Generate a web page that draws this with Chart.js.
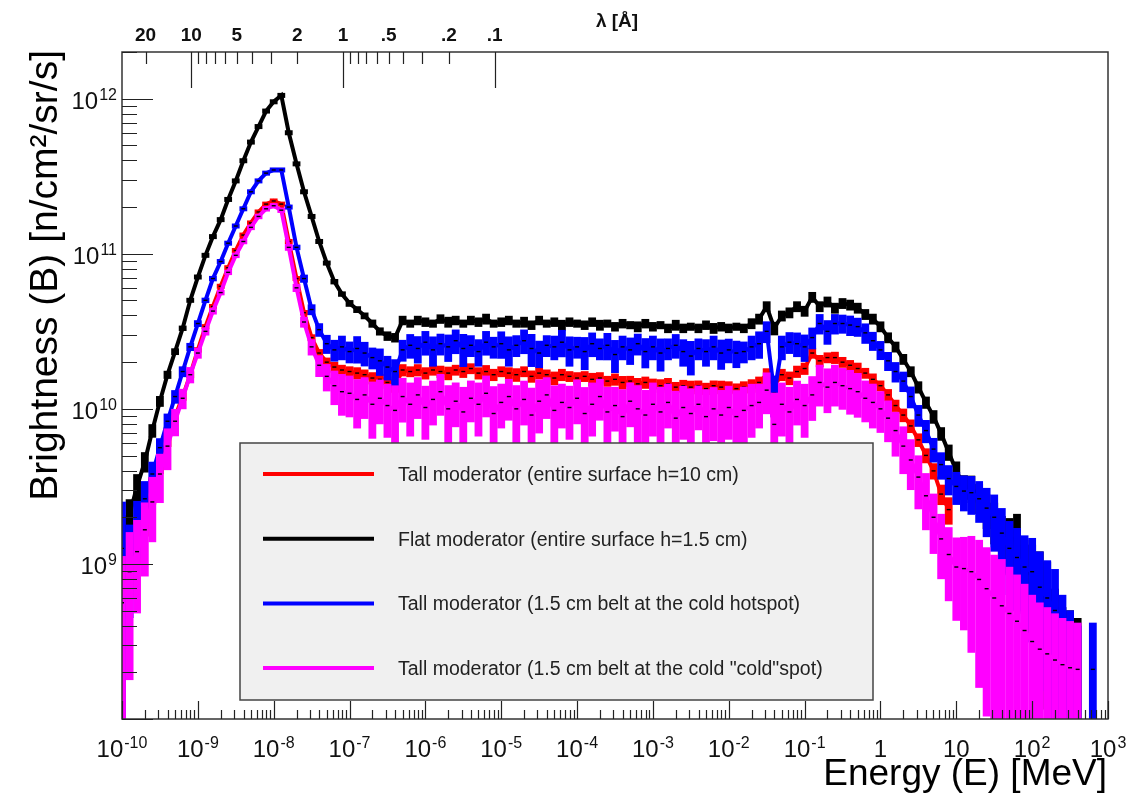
<!DOCTYPE html>
<html>
<head>
<meta charset="utf-8">
<title>Brightness vs energy</title>
<script src="https://cdn.jsdelivr.net/npm/chart.js@4.4.1/dist/chart.umd.min.js"></script>
<style>
  html, body { margin: 0; padding: 0; background: #fff; }
  canvas { display: block; }
</style>
</head>
<body>
<canvas id="chart" width="1128" height="796"></canvas>
<script>
// bin centres, MeV (10 per decade)
const energy = [
  1.00e-10, 1.26e-10, 1.58e-10, 2.00e-10, 2.51e-10, 3.16e-10, 3.98e-10, 5.01e-10, 6.31e-10, 7.94e-10,
  1.00e-9, 1.26e-9, 1.58e-9, 2.00e-9, 2.51e-9, 3.16e-9, 3.98e-9, 5.01e-9, 6.31e-9, 7.94e-9,
  1.00e-8, 1.26e-8, 1.58e-8, 2.00e-8, 2.51e-8, 3.16e-8, 3.98e-8, 5.01e-8, 6.31e-8, 7.94e-8,
  1.00e-7, 1.26e-7, 1.58e-7, 2.00e-7, 2.51e-7, 3.16e-7, 3.98e-7, 5.01e-7, 6.31e-7, 7.94e-7,
  1.00e-6, 1.26e-6, 1.58e-6, 2.00e-6, 2.51e-6, 3.16e-6, 3.98e-6, 5.01e-6, 6.31e-6, 7.94e-6,
  1.00e-5, 1.26e-5, 1.58e-5, 2.00e-5, 2.51e-5, 3.16e-5, 3.98e-5, 5.01e-5, 6.31e-5, 7.94e-5,
  1.00e-4, 1.26e-4, 1.58e-4, 2.00e-4, 2.51e-4, 3.16e-4, 3.98e-4, 5.01e-4, 6.31e-4, 7.94e-4,
  1.00e-3, 1.26e-3, 1.58e-3, 2.00e-3, 2.51e-3, 3.16e-3, 3.98e-3, 5.01e-3, 6.31e-3, 7.94e-3,
  1.00e-2, 1.26e-2, 1.58e-2, 2.00e-2, 2.51e-2, 3.16e-2, 3.98e-2, 5.01e-2, 6.31e-2, 7.94e-2,
  0.100, 0.126, 0.158, 0.200, 0.251, 0.316, 0.398, 0.501, 0.631, 0.794,
  1.00, 1.26, 1.58, 2.00, 2.51, 3.16, 3.98, 5.01, 6.31, 7.94,
  10.0, 12.6, 15.8, 20.0, 25.1, 31.6, 39.8, 50.1, 63.1, 79.4,
  100, 126, 158, 200, 251, 316, 398, 501, 631, 794
];

// Tall moderator, entire surface (red)
const tallSurface = [
  8.91e8, 1.00e9, 1.41e9, 2.00e9, 3.02e9, 4.47e9, 6.31e9, 8.91e9, 1.20e10, 1.66e10,
  2.40e10, 3.39e10, 4.57e10, 6.17e10, 8.13e10, 1.05e11, 1.32e11, 1.58e11, 1.86e11, 2.09e11,
  2.19e11, 2.09e11, 1.20e11, 6.92e10, 4.17e10, 2.88e10, 2.29e10, 2.00e10, 1.86e10, 1.78e10,
  1.74e10, 1.70e10, 1.66e10, 1.58e10, 1.55e10, 1.48e10, 1.41e10, 1.78e10, 1.74e10, 1.78e10,
  1.70e10, 1.78e10, 1.74e10, 1.70e10, 1.78e10, 1.74e10, 1.82e10, 1.70e10, 1.74e10, 1.66e10,
  1.74e10, 1.70e10, 1.66e10, 1.74e10, 1.62e10, 1.70e10, 1.66e10, 1.58e10, 1.66e10, 1.62e10,
  1.58e10, 1.62e10, 1.55e10, 1.58e10, 1.51e10, 1.55e10, 1.48e10, 1.51e10, 1.45e10, 1.48e10,
  1.45e10, 1.41e10, 1.45e10, 1.38e10, 1.41e10, 1.38e10, 1.41e10, 1.35e10, 1.41e10, 1.38e10,
  1.38e10, 1.35e10, 1.38e10, 1.41e10, 1.48e10, 1.66e10, 1.41e10, 1.66e10, 1.58e10, 1.74e10,
  1.82e10, 2.29e10, 2.04e10, 2.14e10, 2.14e10, 2.00e10, 1.91e10, 1.82e10, 1.70e10, 1.55e10,
  1.41e10, 1.23e10, 1.05e10, 9.12e9, 7.76e9, 6.31e9, 5.01e9, 3.98e9, 2.82e9, 2.24e9,
  null, null, null, null, null, null, null, null, null, null,
  null, null, null, null, null, null, null, null, null, null
];
const tallSurfaceErr = [
  0.5, 0.4, 0.3, 0.25, 0.2, 0.15, 0.1, 0.08, 0.06, 0.05,
  0.04, 0.03, 0.03, 0.03, 0.03, 0.03, 0.03, 0.03, 0.03, 0.03,
  0.03, 0.03, 0.03, 0.03, 0.04, 0.05, 0.06, 0.07, 0.08, 0.08,
  0.08, 0.09, 0.08, 0.09, 0.08, 0.09, 0.1, 0.09, 0.08, 0.09,
  0.09, 0.08, 0.09, 0.1, 0.08, 0.09, 0.08, 0.09, 0.1, 0.09,
  0.08, 0.09, 0.1, 0.08, 0.09, 0.09, 0.08, 0.1, 0.09, 0.08,
  0.09, 0.08, 0.1, 0.09, 0.08, 0.09, 0.1, 0.08, 0.09, 0.09,
  0.08, 0.1, 0.09, 0.08, 0.09, 0.1, 0.08, 0.09, 0.08, 0.1,
  0.09, 0.08, 0.09, 0.1, 0.09, 0.1, 0.12, 0.09, 0.1, 0.09,
  0.09, 0.08, 0.09, 0.08, 0.09, 0.08, 0.08, 0.09, 0.08, 0.09,
  0.08, 0.09, 0.09, 0.1, 0.1, 0.1, 0.11, 0.12, 0.15, 0.2,
  0, 0, 0, 0, 0, 0, 0, 0, 0, 0,
  0, 0, 0, 0, 0, 0, 0, 0, 0, 0
];

// Flat moderator, entire surface (black)
const flatSurface = [
  1.58e9, 2.09e9, 3.16e9, 4.57e9, 7.24e9, 1.12e10, 1.66e10, 2.34e10, 3.31e10, 5.01e10,
  7.08e10, 9.77e10, 1.29e11, 1.66e11, 2.24e11, 2.95e11, 3.98e11, 5.25e11, 6.61e11, 8.32e11,
  9.55e11, 1.05e12, 6.03e11, 3.80e11, 2.51e11, 1.74e11, 1.20e11, 8.71e10, 6.61e10, 5.50e10,
  4.79e10, 4.37e10, 3.98e10, 3.55e10, 3.16e10, 2.95e10, 2.88e10, 3.72e10, 3.55e10, 3.72e10,
  3.63e10, 3.55e10, 3.80e10, 3.63e10, 3.72e10, 3.55e10, 3.72e10, 3.63e10, 3.80e10, 3.55e10,
  3.63e10, 3.72e10, 3.55e10, 3.63e10, 3.47e10, 3.72e10, 3.55e10, 3.63e10, 3.47e10, 3.63e10,
  3.55e10, 3.47e10, 3.63e10, 3.47e10, 3.55e10, 3.39e10, 3.55e10, 3.47e10, 3.39e10, 3.55e10,
  3.39e10, 3.47e10, 3.31e10, 3.47e10, 3.31e10, 3.39e10, 3.31e10, 3.47e10, 3.31e10, 3.39e10,
  3.31e10, 3.39e10, 3.31e10, 3.55e10, 3.80e10, 4.57e10, 3.31e10, 3.98e10, 4.17e10, 4.57e10,
  4.27e10, 5.25e10, 4.57e10, 4.90e10, 4.47e10, 4.79e10, 4.68e10, 4.47e10, 4.07e10, 3.80e10,
  3.39e10, 2.88e10, 2.51e10, 2.09e10, 1.74e10, 1.38e10, 1.10e10, 8.91e9, 6.92e9, 5.25e9,
  3.98e9, 3.16e9, 3.09e9, 2.69e9, 2.24e9, 1.91e9, 1.51e9, 1.41e9, 1.45e9, 9.55e8,
  8.32e8, 7.08e8, 5.75e8, 3.55e8, 2.63e8, 2.51e8, 2.24e8, null, null, null
];
const flatSurfaceErr = [
  0.3, 0.25, 0.2, 0.15, 0.1, 0.08, 0.06, 0.05, 0.04, 0.03,
  0.02, 0.02, 0.02, 0.02, 0.02, 0.02, 0.02, 0.02, 0.02, 0.02,
  0.02, 0.02, 0.02, 0.02, 0.02, 0.02, 0.03, 0.03, 0.04, 0.04,
  0.05, 0.05, 0.05, 0.06, 0.06, 0.07, 0.07, 0.07, 0.06, 0.07,
  0.07, 0.06, 0.07, 0.08, 0.07, 0.06, 0.07, 0.07, 0.08, 0.06,
  0.07, 0.07, 0.06, 0.08, 0.07, 0.07, 0.06, 0.07, 0.08, 0.07,
  0.06, 0.07, 0.07, 0.08, 0.06, 0.07, 0.07, 0.06, 0.08, 0.07,
  0.07, 0.06, 0.07, 0.08, 0.07, 0.06, 0.07, 0.07, 0.08, 0.07,
  0.07, 0.06, 0.07, 0.08, 0.08, 0.08, 0.1, 0.08, 0.08, 0.08,
  0.08, 0.08, 0.08, 0.08, 0.08, 0.08, 0.08, 0.08, 0.08, 0.08,
  0.08, 0.08, 0.08, 0.08, 0.08, 0.09, 0.09, 0.1, 0.1, 0.12,
  0.15, 0.18, 0.2, 0.22, 0.25, 0.3, 0.35, 0.4, 0.45, 0.5,
  0.6, 0.7, 0.8, 0.95, 1, 1, 1, 0, 0, 0
];

// Tall moderator, 1.5 cm belt at the cold hotspot (blue)
const beltHotspot = [
  1.26e9, 1.12e9, 1.82e9, 2.63e9, 3.80e9, 5.62e9, 8.32e9, 1.20e10, 1.74e10, 2.51e10,
  3.55e10, 5.01e10, 6.92e10, 8.91e10, 1.17e11, 1.51e11, 1.95e11, 2.51e11, 2.95e11, 3.31e11,
  3.47e11, 3.47e11, 2.00e11, 1.10e11, 6.92e10, 4.37e10, 3.24e10, 2.63e10, 2.40e10, 2.51e10,
  2.34e10, 2.45e10, 2.29e10, 2.14e10, 2.04e10, 1.86e10, 1.74e10, 2.40e10, 2.57e10, 2.45e10,
  2.69e10, 2.40e10, 2.63e10, 2.51e10, 2.75e10, 2.45e10, 2.57e10, 2.34e10, 2.69e10, 2.51e10,
  2.63e10, 2.40e10, 2.57e10, 2.75e10, 2.45e10, 2.29e10, 2.57e10, 2.51e10, 2.69e10, 2.40e10,
  2.51e10, 2.34e10, 2.63e10, 2.45e10, 2.57e10, 2.24e10, 2.51e10, 2.40e10, 2.63e10, 2.34e10,
  2.51e10, 2.29e10, 2.45e10, 2.57e10, 2.34e10, 2.19e10, 2.45e10, 2.34e10, 2.51e10, 2.29e10,
  2.40e10, 2.29e10, 2.34e10, 2.51e10, 2.63e10, 3.16e10, 1.26e10, 2.51e10, 2.69e10, 2.63e10,
  2.51e10, 2.88e10, 3.55e10, 3.16e10, 3.55e10, 3.55e10, 3.47e10, 3.39e10, 3.09e10, 2.75e10,
  2.40e10, 2.04e10, 1.74e10, 1.51e10, 1.20e10, 9.12e9, 7.24e9, 5.50e9, 4.37e9, 3.55e9,
  3.16e9, 2.95e9, 2.88e9, 2.63e9, 2.29e9, 2.00e9, 1.58e9, 1.26e9, 1.10e9, 9.55e8,
  8.91e8, 7.08e8, 6.03e8, 5.01e8, 3.16e8, 2.51e8, 2.00e8, null, 2.09e8, null
];
const beltHotspotErr = [
  1, 0.6, 0.4, 0.3, 0.2, 0.15, 0.12, 0.1, 0.08, 0.06,
  0.05, 0.04, 0.04, 0.03, 0.03, 0.03, 0.03, 0.03, 0.03, 0.03,
  0.03, 0.03, 0.03, 0.04, 0.06, 0.08, 0.1, 0.14, 0.16, 0.18,
  0.16, 0.2, 0.18, 0.16, 0.2, 0.18, 0.2, 0.16, 0.18, 0.2,
  0.18, 0.22, 0.16, 0.2, 0.18, 0.24, 0.16, 0.2, 0.18, 0.16,
  0.2, 0.22, 0.16, 0.18, 0.24, 0.2, 0.16, 0.18, 0.2, 0.22,
  0.16, 0.24, 0.18, 0.16, 0.2, 0.24, 0.18, 0.2, 0.16, 0.22,
  0.18, 0.24, 0.16, 0.18, 0.2, 0.25, 0.16, 0.2, 0.18, 0.22,
  0.18, 0.2, 0.16, 0.18, 0.2, 0.16, 0.3, 0.18, 0.16, 0.18,
  0.2, 0.16, 0.15, 0.18, 0.15, 0.14, 0.15, 0.14, 0.15, 0.14,
  0.14, 0.14, 0.15, 0.15, 0.16, 0.16, 0.17, 0.18, 0.2, 0.22,
  0.24, 0.26, 0.28, 0.3, 0.35, 0.4, 0.45, 0.5, 0.55, 0.6,
  0.65, 0.7, 0.75, 0.85, 1, 1, 1, 0, 1, 0
];

// Tall moderator, 1.5 cm belt at the cold "cold"spot (magenta)
const beltColdspot = [
  5.62e8, 8.91e8, 1.20e9, 1.66e9, 2.51e9, 3.80e9, 5.75e9, 8.32e9, 1.17e10, 1.66e10,
  2.29e10, 3.16e10, 4.27e10, 5.62e10, 7.59e10, 9.77e10, 1.20e11, 1.48e11, 1.74e11, 1.95e11,
  2.04e11, 1.91e11, 1.10e11, 6.03e10, 3.63e10, 2.51e10, 1.91e10, 1.62e10, 1.41e10, 1.29e10,
  1.26e10, 1.15e10, 1.23e10, 1.07e10, 1.17e10, 1.05e10, 9.77e9, 1.20e10, 1.07e10, 1.23e10,
  1.02e10, 1.15e10, 1.29e10, 1.00e10, 1.12e10, 9.55e9, 1.17e10, 1.07e10, 1.26e10, 9.33e9,
  1.10e10, 1.20e10, 1.00e10, 1.15e10, 9.12e9, 1.12e10, 1.23e10, 9.77e9, 1.10e10, 1.02e10,
  1.17e10, 9.33e9, 1.07e10, 1.20e10, 9.55e9, 1.05e10, 8.91e9, 1.12e10, 1.00e10, 9.12e9,
  1.07e10, 9.55e9, 1.10e10, 8.71e9, 1.02e10, 9.33e9, 1.07e10, 8.91e9, 1.00e10, 9.12e9,
  1.02e10, 8.91e9, 9.77e9, 1.05e10, 1.10e10, 1.32e10, 7.94e9, 1.07e10, 9.55e9, 1.15e10,
  1.05e10, 1.23e10, 1.48e10, 1.38e10, 1.48e10, 1.41e10, 1.35e10, 1.29e10, 1.17e10, 1.10e10,
  1.00e10, 8.71e9, 7.24e9, 5.75e9, 4.68e9, 3.63e9, 2.75e9, 2.00e9, 1.45e9, 1.15e9,
  9.55e8, 9.33e8, 8.91e8, 7.94e8, 6.92e8, 6.03e8, 5.37e8, 4.79e8, 4.27e8, 3.72e8,
  3.16e8, 2.82e8, 2.63e8, 2.40e8, 2.24e8, 2.14e8, 2.09e8, null, null, null
];
const beltColdspotErr = [
  1, 0.8, 0.6, 0.5, 0.45, 0.35, 0.3, 0.2, 0.15, 0.12,
  0.08, 0.06, 0.05, 0.04, 0.04, 0.04, 0.04, 0.04, 0.04, 0.04,
  0.04, 0.04, 0.05, 0.06, 0.08, 0.12, 0.16, 0.2, 0.25, 0.3,
  0.3, 0.35, 0.3, 0.4, 0.32, 0.38, 0.45, 0.32, 0.38, 0.3,
  0.38, 0.32, 0.3, 0.42, 0.32, 0.45, 0.3, 0.38, 0.3, 0.5,
  0.32, 0.3, 0.42, 0.32, 0.5, 0.38, 0.3, 0.45, 0.32, 0.38,
  0.32, 0.48, 0.38, 0.3, 0.45, 0.32, 0.5, 0.32, 0.42, 0.45,
  0.38, 0.45, 0.32, 0.5, 0.38, 0.45, 0.32, 0.5, 0.38, 0.45,
  0.38, 0.48, 0.42, 0.38, 0.32, 0.3, 0.6, 0.38, 0.45, 0.32,
  0.38, 0.32, 0.3, 0.32, 0.3, 0.3, 0.32, 0.32, 0.3, 0.32,
  0.3, 0.3, 0.32, 0.34, 0.36, 0.38, 0.4, 0.42, 0.45, 0.5,
  0.55, 0.6, 0.7, 0.8, 0.85, 0.9, 1, 1, 1, 1,
  1, 1, 1, 1, 1, 1, 1, 0, 0, 0
];

const seriesLabels = [
  'Tall moderator (entire surface h=10 cm)',
  'Flat moderator (entire surface h=1.5 cm)',
  'Tall moderator (1.5 cm belt at the cold hotspot)',
  'Tall moderator (1.5 cm belt at the cold "cold"spot)'
];
const seriesColors = ['#ff0000', '#000000', '#0000ff', '#ff00ff'];

// axis labels
const xDecades = [1e-10, 1e-9, 1e-8, 1e-7, 1e-6, 1e-5, 1e-4, 1e-3, 1e-2, 1e-1, 1, 10, 100, 1000];
const xDecadeText = ['10^-10', '10^-9', '10^-8', '10^-7', '10^-6', '10^-5', '10^-4', '10^-3', '10^-2', '10^-1', '1', '10', '10^2', '10^3'];
const yDecades = [1e9, 1e10, 1e11, 1e12];
const yDecadeText = ['10^9', '10^10', '10^11', '10^12'];
const minorSteps = [2, 3, 4, 5, 6, 7, 8, 9];

// top wavelength axis, Angstrom
const lambdaMajor = [10, 1, 0.1];
const lambdaMinor = [20, 9, 8, 7, 6, 5, 4, 3, 2, 0.9, 0.8, 0.7, 0.6, 0.5, 0.4, 0.3, 0.2];
const lambdaText = ['20', '10', '5', '2', '1', '.5', '.2', '.1'];
const lambdaTextAt = [20, 10, 5, 2, 1, 0.5, 0.2, 0.1];

// neutron wavelength for energy in MeV: lambda^2 = 81.8 meV A^2 / E
const lambdaOf = e => Math.sqrt(8.1804e-8 / e);

const FONT = '"Liberation Sans", Arial, Helvetica, sans-serif';

// keep empty bins as gaps
function points(values, errs) {
  return energy.map((e, i) => ({ x: e, y: values[i], err: errs[i] }));
}

const datasets = [
  [tallSurface, tallSurfaceErr, 4],
  [flatSurface, flatSurfaceErr, 3],
  [beltHotspot, beltHotspotErr, 2],
  [beltColdspot, beltColdspotErr, 1]
].map(([vals, errs, order], k) => ({
  label: seriesLabels[k],
  data: points(vals, errs),
  backgroundColor: seriesColors[k],
  borderColor: seriesColors[k],
  borderWidth: 4,
  tension: 0,
  spanGaps: false,
  pointStyle: 'line',
  pointRadius: 2,
  pointBorderWidth: 1.4,
  pointBorderColor: '#000',
  showLine: true,
  order: order,
  xAxisID: 'x',
  yAxisID: 'y'
}));

// coloured vertical error bars under each marker, one bin wide
const errorBars = {
  id: 'errorBars',
  beforeDatasetDraw(chart, args) {
    const { ctx, chartArea: a } = chart;
    const xs = chart.scales.x, ys = chart.scales.y;
    const ds = chart.data.datasets[args.index];
    ctx.save();
    ctx.beginPath();
    ctx.rect(a.left, a.top, a.right - a.left, a.bottom - a.top);
    ctx.clip();
    ctx.fillStyle = ds.backgroundColor;
    ds.data.forEach(p => {
      if (p.y == null) return;
      const px = xs.getPixelForValue(p.x);
      const py = ys.getPixelForValue(p.y);
      const hi = ys.getPixelForValue(p.y * (1 + p.err));
      const lo = p.err >= 1 ? a.bottom : ys.getPixelForValue(p.y * (1 - p.err));
      const top = Math.min(hi, py - 2.5);
      const bot = Math.max(lo, py + 2.5);
      ctx.fillRect(px - 3.9, top, 7.8, bot - top);
    });
    ctx.restore();
  }
};

function drawPower(ctx, text, x, baseY, align, size, expSize, expLift) {
  const parts = text.split('^');
  ctx.font = size + 'px ' + FONT;
  const wb = ctx.measureText(parts[0]).width;
  let we = 0;
  if (parts[1]) {
    ctx.font = expSize + 'px ' + FONT;
    we = ctx.measureText(parts[1]).width + 1;
  }
  const sx = align === 'center' ? x - (wb + we) / 2 : x - (wb + we);
  ctx.textAlign = 'left';
  ctx.font = size + 'px ' + FONT;
  ctx.fillText(parts[0], sx, baseY);
  if (parts[1]) {
    ctx.font = expSize + 'px ' + FONT;
    ctx.fillText(parts[1], sx + wb + 1, baseY - expLift);
  }
}

// ROOT-style frame, inward ticks, labels, titles and legend box
const rootAxes = {
  id: 'rootAxes',
  afterDraw(chart) {
    const { ctx, chartArea: a } = chart;
    const xs = chart.scales.x, ys = chart.scales.y, lam = chart.scales.lam;
    ctx.save();

    // legend
    ctx.fillStyle = '#f0f0f0';
    ctx.fillRect(240, 443, 633, 257);
    ctx.strokeStyle = '#444';
    ctx.lineWidth = 1.5;
    ctx.strokeRect(240, 443, 633, 257);
    chart.data.datasets.forEach((ds, i) => {
      const ly = 474 + i * 64.7;
      ctx.strokeStyle = ds.borderColor;
      ctx.lineWidth = 4;
      ctx.beginPath();
      ctx.moveTo(263, ly);
      ctx.lineTo(374, ly);
      ctx.stroke();
      ctx.fillStyle = '#222';
      ctx.font = '19.5px ' + FONT;
      ctx.textAlign = 'left';
      ctx.textBaseline = 'alphabetic';
      ctx.fillText(ds.label, 398, ly + 7);
    });

    // frame
    ctx.strokeStyle = '#333';
    ctx.lineWidth = 1.5;
    ctx.strokeRect(a.left, a.top, a.right - a.left, a.bottom - a.top);

    ctx.lineWidth = 1.2;
    ctx.strokeStyle = '#222';
    ctx.beginPath();
    // y ticks (inside, from the left edge)
    yDecades.concat([1e8]).forEach(d => {
      [1].concat(minorSteps).forEach(m => {
        const v = d * m;
        if (v < ys.min || v > ys.max) return;
        const py = Math.round(ys.getPixelForValue(v)) + 0.5;
        ctx.moveTo(a.left, py);
        ctx.lineTo(a.left + (m === 1 ? 31 : 15), py);
      });
    });
    // x ticks (inside, from the bottom edge)
    xDecades.forEach(d => {
      [1].concat(minorSteps).forEach(m => {
        const v = d * m;
        if (v < xs.min || v > xs.max) return;
        const px = Math.round(xs.getPixelForValue(v)) + 0.5;
        ctx.moveTo(px, a.bottom);
        ctx.lineTo(px, a.bottom - (m === 1 ? 18 : 9));
      });
    });
    // wavelength ticks (inside, from the top edge)
    lambdaMajor.forEach(l => {
      const px = Math.round(lam.getPixelForValue(l)) + 0.5;
      ctx.moveTo(px, a.top);
      ctx.lineTo(px, a.top + 36);
    });
    lambdaMinor.forEach(l => {
      const px = Math.round(lam.getPixelForValue(l)) + 0.5;
      ctx.moveTo(px, a.top);
      ctx.lineTo(px, a.top + 12);
    });
    ctx.stroke();

    ctx.fillStyle = '#111';
    ctx.textBaseline = 'alphabetic';
    xDecades.forEach((d, i) => {
      drawPower(ctx, xDecadeText[i], xs.getPixelForValue(d), 757, 'center', 24, 16, 9);
    });
    yDecades.forEach((d, i) => {
      drawPower(ctx, yDecadeText[i], a.left - 5, ys.getPixelForValue(d) + 10, 'right', 24, 16, 9);
    });

    ctx.font = 'bold 19px ' + FONT;
    ctx.textAlign = 'center';
    lambdaTextAt.forEach((l, i) => {
      ctx.fillText(lambdaText[i], lam.getPixelForValue(l), 41);
    });
    ctx.fillText('\u03bb [\u00c5]', 617, 27);

    // axis titles
    ctx.fillStyle = '#000';
    ctx.font = '37px ' + FONT;
    ctx.textAlign = 'right';
    ctx.fillText('Energy (E) [MeV]', 1107, 785);

    ctx.save();
    ctx.translate(57, 50);
    ctx.rotate(-Math.PI / 2);
    ctx.font = '39px ' + FONT;
    ctx.textAlign = 'right';
    ctx.fillText('Brightness (B) [n/cm\u00b2/sr/s]', 0, 0);
    ctx.restore();

    ctx.restore();
  }
};

new Chart(document.getElementById('chart'), {
  type: 'scatter',
  data: { datasets },
  options: {
    responsive: false,
    animation: false,
    events: [],
    layout: { padding: { left: 122, right: 20, top: 52, bottom: 77 } },
    plugins: { legend: { display: false }, tooltip: { enabled: false } },
    scales: {
      x: { type: 'logarithmic', min: 1e-10, max: 1e3, display: false },
      y: { type: 'logarithmic', min: 1e8, max: 2e12, display: false },
      lam: {
        type: 'logarithmic', axis: 'x', position: 'top', reverse: true,
        min: lambdaOf(1e3), max: lambdaOf(1e-10), display: false
      }
    }
  },
  plugins: [errorBars, rootAxes]
});
</script>
</body>
</html>
